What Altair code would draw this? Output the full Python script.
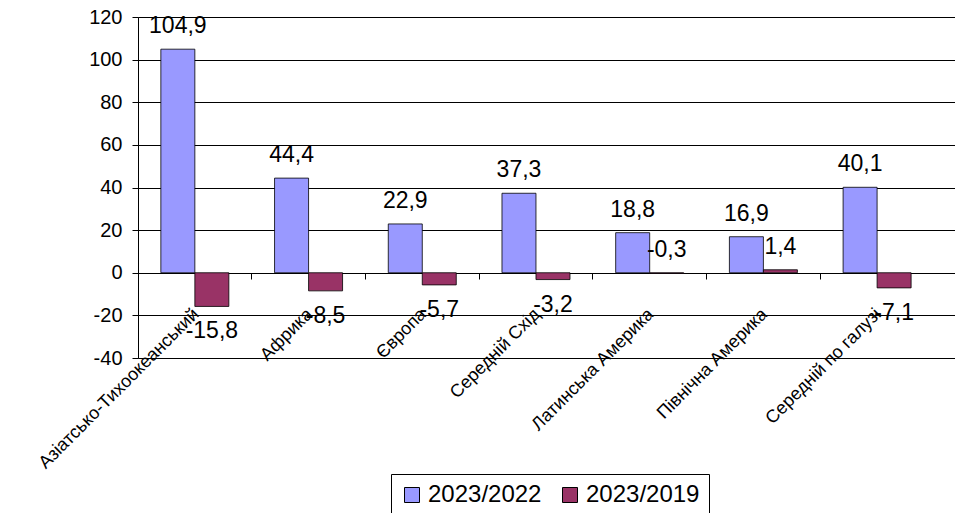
import altair as alt
import pandas as pd

categories = ["Азіатсько-Тихоокеанський", "Африка", "Європа", "Середній Схід",
              "Латинська Америка", "Північна Америка", "Середній по галузі"]
series_names = ["2023/2022", "2023/2019"]
s_2023_2022 = [104.9, 44.4, 22.9, 37.3, 18.8, 16.9, 40.1]
s_2023_2019 = [-15.8, -8.5, -5.7, -3.2, -0.3, 1.4, -7.1]
colors = ["#9999FF", "#993366"]
y_ticks = [-40, -20, 0, 20, 40, 60, 80, 100, 120]

rows = []
for c, a, b in zip(categories, s_2023_2022, s_2023_2019):
    rows.append({"cat": c, "series": series_names[0], "value": a})
    rows.append({"cat": c, "series": series_names[1], "value": b})
df = pd.DataFrame(rows)

FONT = "Liberation Sans"

x_enc = alt.X("cat:N", sort=categories, title=None,
              scale=alt.Scale(paddingInner=0, paddingOuter=0.0925, align=0),
              axis=alt.Axis(labelAngle=-45, labelAlign="right", labelBaseline="top",
                            labelFontSize=18, labelFont=FONT, labelColor="black",
                            labelPadding=26, labelOffset=-5, offset=-85, bandPosition=0,
                            tickSize=6, tickColor="black", domainColor="black",
                            labelLimit=400, grid=False))
xoff_enc = alt.XOffset("series:N", sort=series_names,
                       scale=alt.Scale(paddingInner=0, paddingOuter=0.672))
y_scale = alt.Scale(domain=[-40, 120], nice=False, zero=False)

bars = alt.Chart(df).mark_bar(stroke="black", strokeWidth=0.8).encode(
    x=x_enc,
    xOffset=xoff_enc,
    y=alt.Y("value:Q", scale=y_scale, title=None,
            axis=alt.Axis(values=y_ticks, labelExpr="toString(datum.value)",
                          labelFontSize=20, labelFont=FONT, labelColor="black",
                          tickSize=6, tickColor="black", domainColor="black",
                          gridColor="black", gridOpacity=1, labelPadding=10)),
    color=alt.Color("series:N", sort=series_names,
                    scale=alt.Scale(domain=series_names, range=colors),
                    legend=alt.Legend(title=None, orient="none", legendX=253, legendY=457,
                                      direction="horizontal", strokeColor="black",
                                      fillColor="white", padding=9, columnPadding=16,
                                      labelFontSize=24, labelFont=FONT, labelColor="black",
                                      symbolSize=225, symbolType="square",
                                      symbolStrokeColor="black", symbolStrokeWidth=1,
                                      labelOffset=4)),
)

base_text = alt.Chart(df).transform_calculate(
    lbl="replace(toString(datum.value), '.', ',')"
)

text_above = base_text.transform_filter("datum.value >= -1").mark_text(
    dy=-23, baseline="middle", align="center", fontSize=23, font=FONT, color="black"
).encode(x=alt.X("cat:N", sort=categories), xOffset=alt.XOffset("series:N", sort=series_names),
         y=alt.Y("value:Q", scale=y_scale), text="lbl:N")

text_below = base_text.transform_filter("datum.value < -1").mark_text(
    dy=25, baseline="middle", align="center", fontSize=23, font=FONT, color="black"
).encode(x=alt.X("cat:N", sort=categories), xOffset=alt.XOffset("series:N", sort=series_names),
         y=alt.Y("value:Q", scale=y_scale), text="lbl:N")

chart = alt.layer(bars, text_above, text_below).properties(
    width=817, height=341,
    padding={"left": 138, "top": 17, "right": 0, "bottom": 155},
    autosize="none",
    background="white",
).configure_view(stroke="#808080", strokeWidth=1)

chart.save("out.html", embed_options={"renderer": "svg", "actions": False})
